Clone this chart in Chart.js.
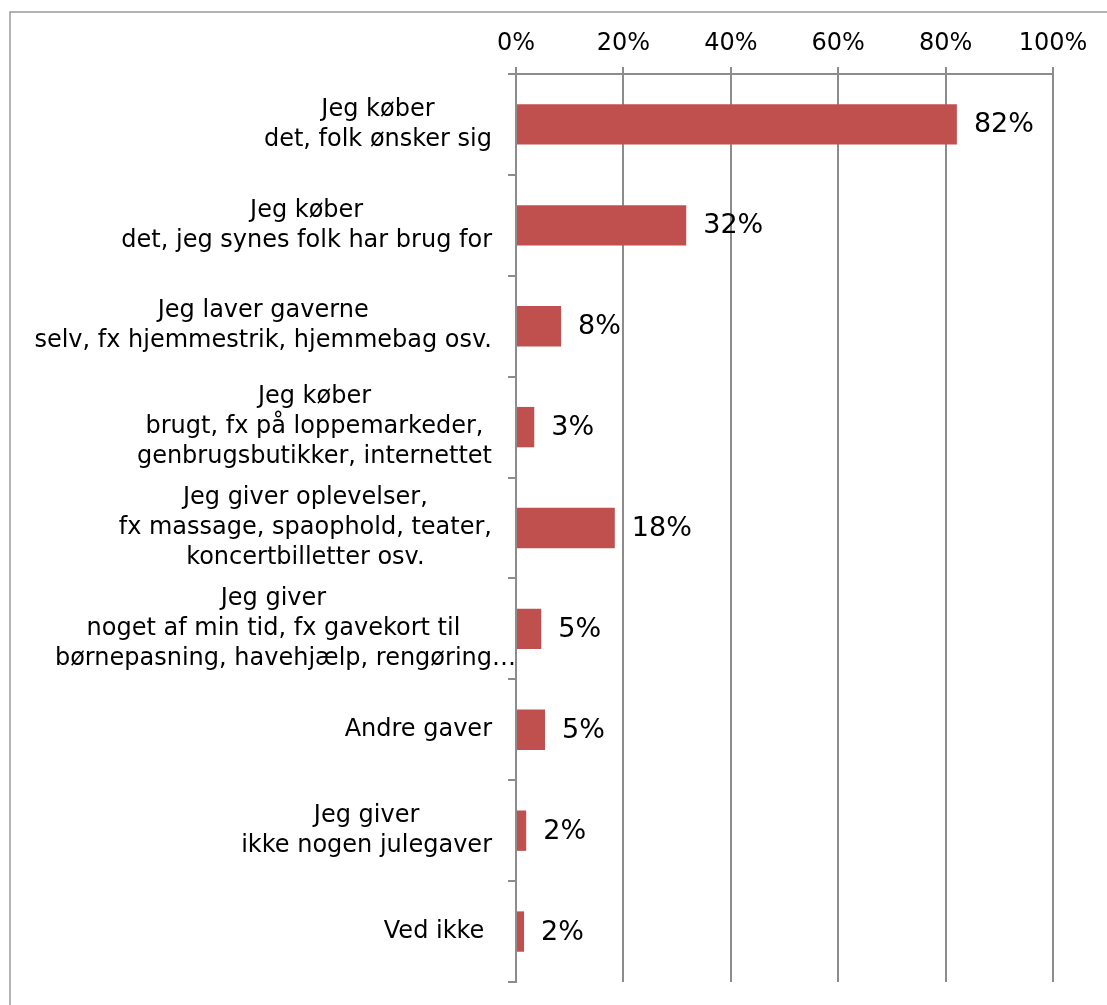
<!DOCTYPE html>
<html><head><meta charset="utf-8">
<script src="https://cdn.jsdelivr.net/npm/chart.js@4"></script>
<style>html,body{margin:0;padding:0;background:#fff;overflow:hidden}</style>
</head><body>
<canvas id="c" width="1107" height="1005" style="display:block;width:1107px;height:1005px"></canvas>
<script>
const categories = [
  ["Jeg køber", "det, folk ønsker sig"],
  ["Jeg køber", "det, jeg synes folk har brug for"],
  ["Jeg laver gaverne", "selv, fx hjemmestrik, hjemmebag osv."],
  ["Jeg køber", "brugt, fx på loppemarkeder,", "genbrugsbutikker, internettet"],
  ["Jeg giver oplevelser,", "fx massage, spaophold, teater,", "koncertbilletter osv."],
  ["Jeg giver", "noget af min tid, fx gavekort til", "børnepasning, havehjælp, rengøring…"],
  ["Andre gaver"],
  ["Jeg giver", "ikke nogen julegaver"],
  ["Ved ikke "]
];
const values = [82.1, 31.7, 8.4, 3.4, 18.4, 4.7, 5.4, 1.9, 1.5];
const dataLabels = ["82%", "32%", "8%", "3%", "18%", "5%", "5%", "2%", "2%"];
const tickLabels = ["0%", "20%", "40%", "60%", "80%", "100%"];

const FONT = '"DejaVu Sans", Verdana, sans-serif';
const GRID = '#8c8c8c';
Chart.defaults.font.family = FONT;
Chart.defaults.color = '#000';

const frame = {
  id: 'frame',
  beforeDraw(chart) {
    const ctx = chart.ctx;
    ctx.save();
    ctx.strokeStyle = '#9a9a9a';
    ctx.lineWidth = 1.5;
    ctx.strokeRect(10, 12, 1300, 1300);
    ctx.restore();
  }
};

const catLabels = {
  id: 'catLabels',
  afterDraw(chart) {
    const ctx = chart.ctx;
    const ys = chart.scales.y;
    const LH = 30;
    ctx.save();
    ctx.font = '24px ' + FONT;
    ctx.fillStyle = '#000';
    ctx.textBaseline = 'middle';
    ctx.textAlign = 'left';
    const right = chart.chartArea.left - 24;
    categories.forEach((lines, i) => {
      const cy = ys.getPixelForValue(i);
      const ws = lines.map(l => ctx.measureText(l.replace(/…$/, '')).width);
      const bw = Math.max(...ws);
      const cx = right - bw / 2;
      const n = lines.length;
      lines.forEach((l, j) => {
        const y = cy + (j - (n - 1) / 2) * LH;
        ctx.fillText(l, cx - ws[j] / 2, y);
      });
    });
    ctx.restore();
  }
};

const barLabels = {
  id: 'barLabels',
  afterDatasetsDraw(chart) {
    const ctx = chart.ctx;
    const meta = chart.getDatasetMeta(0);
    ctx.save();
    ctx.font = '27px ' + FONT;
    ctx.fillStyle = '#000';
    ctx.textBaseline = 'middle';
    ctx.textAlign = 'left';
    meta.data.forEach((bar, i) => {
      ctx.fillText(dataLabels[i], bar.x + 17, bar.y + 1);
    });
    ctx.restore();
  }
};

new Chart(document.getElementById('c'), {
  type: 'bar',
  data: {
    labels: categories,
    datasets: [{
      data: values,
      backgroundColor: '#C0504D',
      borderWidth: 0,
      barPercentage: 1,
      categoryPercentage: 0.4
    }]
  },
  options: {
    indexAxis: 'y',
    responsive: false,
    devicePixelRatio: 1,
    animation: false,
    layout: { padding: { top: 0, right: 54, bottom: 23, left: 0 } },
    plugins: { legend: { display: false }, tooltip: { enabled: false } },
    scales: {
      x: {
        position: 'top',
        min: 0, max: 100,
        afterFit(s) { s.height = 74; },
        ticks: {
          stepSize: 20,
          padding: 9,
          font: { size: 24, family: FONT },
          color: '#000',
          callback: (v) => tickLabels[Math.round(v / 20)]
        },
        grid: { color: GRID, lineWidth: 2, tickLength: 7, drawTicks: true },
        border: { color: GRID, width: 2 }
      },
      y: {
        afterFit(s) { s.width = 516; },
        ticks: { display: false },
        grid: { offset: true, drawOnChartArea: false, drawTicks: true, tickLength: 8, color: GRID, lineWidth: 2 },
        border: { color: GRID, width: 2 }
      }
    }
  },
  plugins: [frame, catLabels, barLabels]
});
</script>
</body></html>
